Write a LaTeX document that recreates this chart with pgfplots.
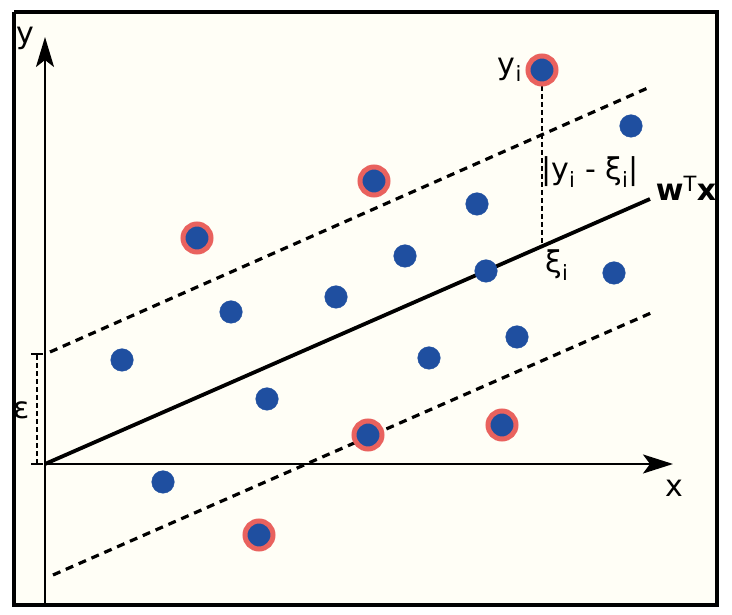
\documentclass[border=0pt]{standalone}
\usepackage{fontspec}
\setmainfont{DejaVu Sans}
\usepackage{pgfplots}
\pgfplotsset{compat=1.18}
\usetikzlibrary{arrows.meta}
\definecolor{cream}{HTML}{FFFEF6}
\definecolor{ptblue}{HTML}{1F4FA0}
\definecolor{ptred}{HTML}{E9625E}
\begin{document}
\begin{tikzpicture}
\begin{axis}[
  width=732pt, height=615pt, scale only axis,
  xmin=-45, xmax=687, ymin=-151, ymax=464,
  axis lines=none, clip=false,
  font=\fontsize{30}{33}\selectfont,
]
% full canvas (white)
\addplot[draw=white, line width=0.01pt, fill=white] coordinates {(-45,-151) (687,-151) (687,464) (-45,464) (-45,-151)};
% frame
\addplot[draw=black, line width=3.4pt, fill=cream] coordinates {(-31,452) (672,452) (672,-141) (-31,-141) (-31,452)};
% axes
\addplot[black, line width=2.2pt, -{Stealth[length=30pt,width=18pt,inset=7pt]}] coordinates {(0,-141) (0,427)};
\addplot[black, line width=2.2pt, -{Stealth[length=30pt,width=19pt,inset=7pt]}] coordinates {(0,0) (628,0)};
% regression line and epsilon tube
\addplot[black, line width=3.8pt] coordinates {(0,0) (605,265)};
\addplot[black, line width=3.2pt, dash pattern=on 8pt off 6pt] coordinates {(5,112) (605,377)};
\addplot[black, line width=3.2pt, dash pattern=on 8pt off 6pt] coordinates {(8,-111) (606,151)};
% epsilon bracket
\addplot[black, line width=1.4pt, dash pattern=on 5pt off 3pt] coordinates {(-8,0) (-8,110)};
\addplot[black, line width=1.4pt] coordinates {(-14,110) (-2,110)};
\addplot[black, line width=1.4pt] coordinates {(-14,0) (-2,0)};
% plain points
\addplot[only marks, mark=*, mark size=11.3pt, color=ptblue, mark options={draw=ptblue, fill=ptblue}] coordinates {
(77,104) (186,152) (291,167) (360,208) (432,260) (441,193)
(384,106) (472,127) (222,65) (118,-18) (569,191) (586,338)};
% outlier points
\addplot[only marks, mark=*, mark size=14pt, mark options={draw=ptred, line width=5pt, fill=ptblue}] coordinates {
(152,226) (329,283) (323,29) (457,39) (214,-71) (497,394)};
% y_i residual
\addplot[black, line width=1.4pt, dash pattern=on 5pt off 3pt] coordinates {(497,394) (497,221)};
\addplot[black, line width=1.4pt] coordinates {(492,395) (502,395)};
% labels
\node at (axis cs:-20,426) {y};
\node at (axis cs:629,-24) {x};
\node at (axis cs:-23,54) {ε};
\node at (axis cs:465,394) {y\textsubscript{i}};
\node at (axis cs:545,292) {|y\textsubscript{i} - ξ\textsubscript{i}|};
\node at (axis cs:641,276) {\textbf{w}\textsuperscript{T}\textbf{x}};
\node at (axis cs:512,199) {ξ\textsubscript{i}};
\end{axis}
\end{tikzpicture}
\end{document}
